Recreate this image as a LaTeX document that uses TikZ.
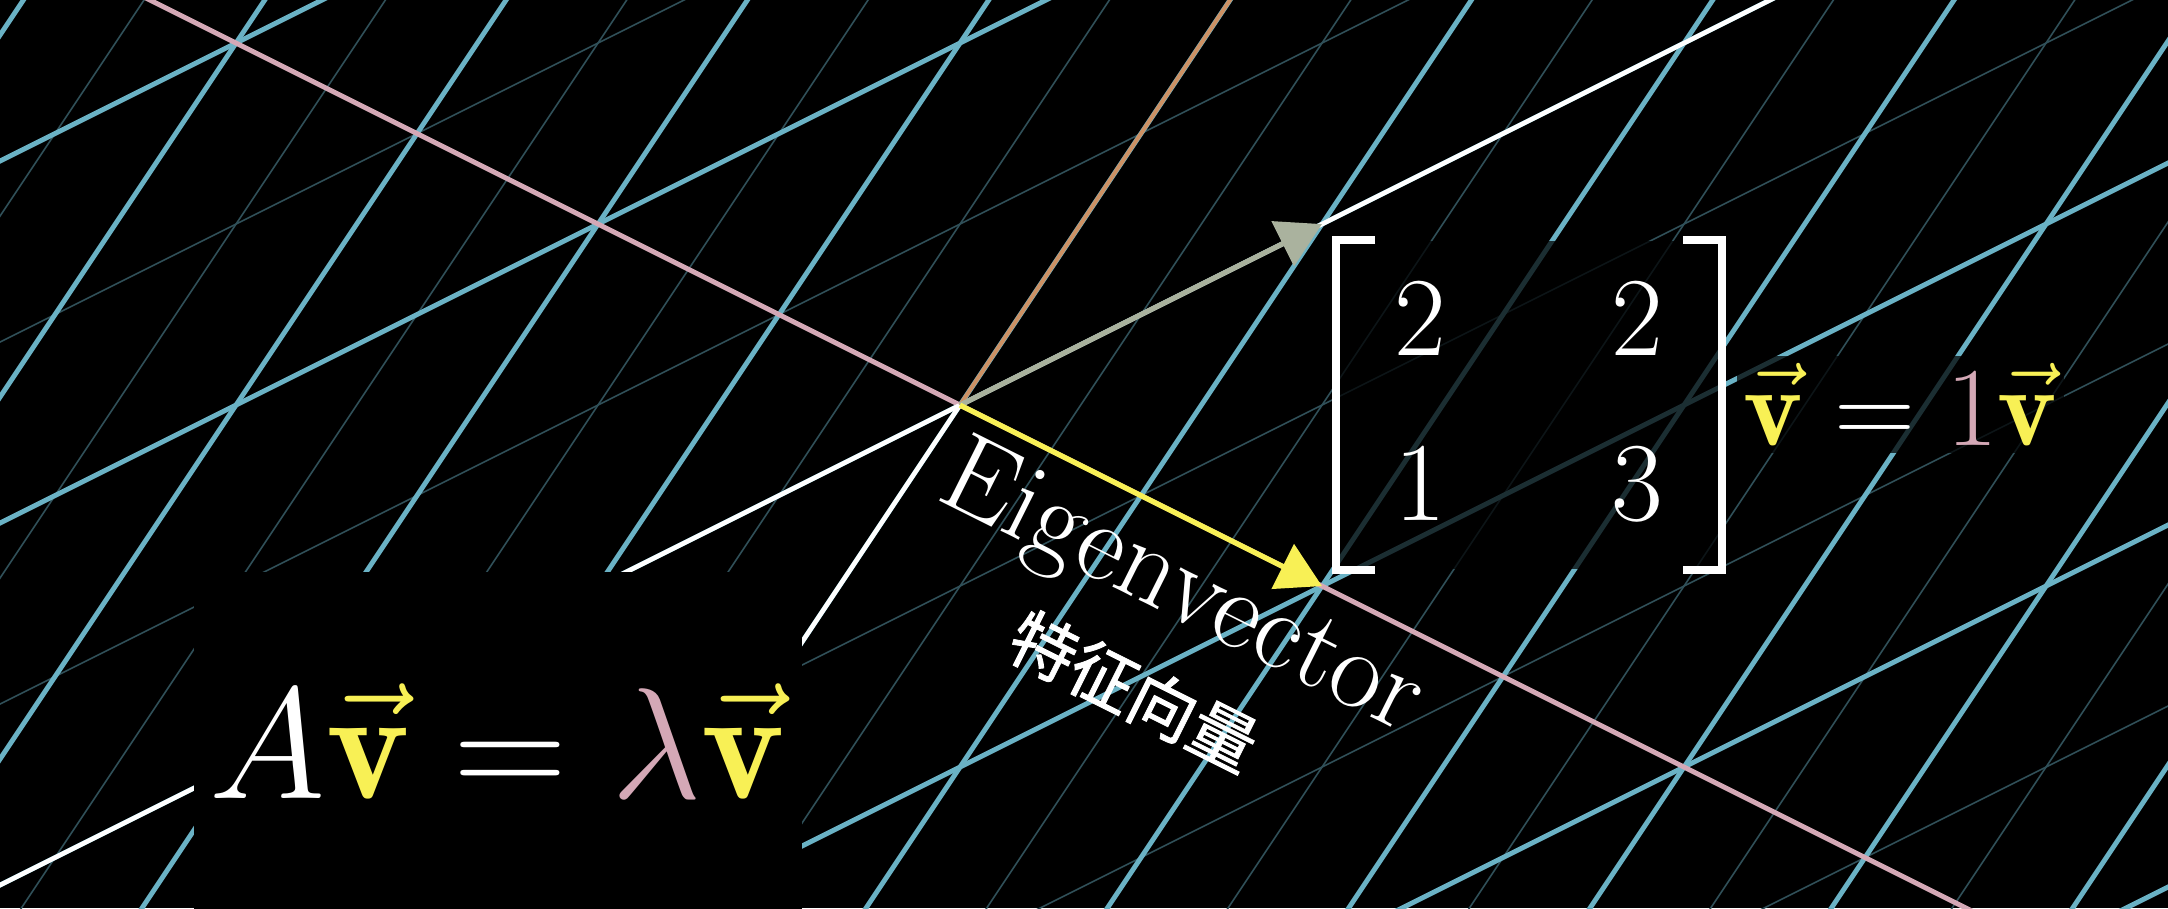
\documentclass[tikz,border=0pt]{standalone}
\usepackage{fix-cm}
\usepackage{fontspec}
\usepackage{xcolor}
\usepackage{tikz}
\usetikzlibrary{arrows.meta,positioning}
\newfontfamily\cjk[FakeBold=1.2]{Noto Sans CJK SC}
\renewcommand{\arraystretch}{1.23}
\definecolor{gridcolor}{RGB}{106,178,197}
\definecolor{spanpink}{RGB}{212,168,182}
\definecolor{eigyellow}{RGB}{248,240,85}
\definecolor{ihatgray}{RGB}{170,178,158}
\definecolor{jhatorange}{RGB}{205,145,100}
\tikzset{
  grid thick/.style={
    draw=gridcolor,
    line width=1.4pt
  },
  grid thin/.style={
    draw=gridcolor!45!black,
    line width=0.45pt
  },
  axis line/.style={
    draw=white,
    line width=1.3pt
  },
  span line/.style={
    draw=spanpink,
    line width=1.4pt
  },
  vec arrow/.style={
    -{Triangle[length=12.5pt,width=14pt]},
    line width=1.5pt
  },
  label text/.style={
    text=white,
    inner sep=1pt
  },
  dim box/.style={
    fill=black,
    fill opacity=0.74,
    text opacity=1,
    text=white,
    inner sep=0pt
  },
  bracket/.style={
    draw=white,
    line width=2.3pt
  },
  big math/.style={
    font=\fontsize{32}{38}\selectfont
  }
}

\begin{document}
\begin{tikzpicture}[x=1.81cm, y=1.81cm]
  % Frame
  \coordinate (bl) at (-5.304,-2.779);
  \coordinate (tr) at (6.674,2.238);
  \fill[black] (bl) rectangle (tr);
  \clip (bl) rectangle (tr);

  % Transformed grid, A = [2 2; 1 3]
  \begin{scope}[cm={2,1,2,3,(0,0)}]
    \foreach \k in {-5.5,-4.5,...,6.5}
      \draw[grid thin] (\k,-4) -- (\k,3.5);
    \foreach \k in {-3.5,-2.5,...,2.5}
      \draw[grid thin] (-6.5,\k) -- (7.5,\k);
    \foreach \k in {-6,...,7}
      \draw[grid thick] (\k,-4) -- (\k,3.5);
    \foreach \k in {-4,...,3}
      \draw[grid thick] (-6.5,\k) -- (7.5,\k);
  \end{scope}

  \coordinate (O) at (0,0);
  \coordinate (ihat) at (2,1);
  \coordinate (jhat) at (2,3);
  \coordinate (eig) at (2,-1);

  % Span of the eigenvector
  \coordinate (spanA) at (-8,4);
  \coordinate (spanB) at (10,-5);
  \draw[span line] (spanA) -- (spanB);

  % Transformed axes
  \coordinate (xaxA) at (-8,-4);
  \coordinate (xaxB) at (8,4);
  \coordinate (yaxA) at (-4,-6);
  \draw[axis line] (xaxA) -- (xaxB);
  \draw[axis line] (yaxA) -- (O);

  % Labels
  \node[label text, rotate=-26.57, font=\fontsize{32}{38}\selectfont] (eiglabel) at (1.22,-1.03) {Eigenvector};
  \node[label text, rotate=-26.57, font=\cjk\fontsize{19}{23}\selectfont] (cnlabel) at (0.96,-1.58) {特征向量};

  % Basis vectors and eigenvector
  \draw[vec arrow, jhatorange, line width=1.15pt] (O) -- (jhat);
  \draw[vec arrow, ihatgray] (O) -- (ihat);
  \draw[vec arrow, eigyellow] (O) -- (eig);

  % Equations
  \node[fill=black, text=white, minimum width=6.08cm, minimum height=3.4cm, font=\fontsize{45}{54}\selectfont] (defeq) at (-2.555,-1.86)
    {$A{\color{eigyellow}\vec{\mathbf{v}}} = {\color{spanpink}\lambda}{\color{eigyellow}\vec{\mathbf{v}}}$};
  \node[dim box, big math, minimum width=3.84cm] (mat) at (3.144,0)
    {$\begin{array}{@{}c@{\hspace{47pt}}c@{}}2&2\\1&3\end{array}$};
  \draw[bracket] ([xshift=11pt]mat.north west) -- (mat.north west) -- (mat.south west) -- ([xshift=11pt]mat.south west);
  \draw[bracket] ([xshift=-11pt]mat.north east) -- (mat.north east) -- (mat.south east) -- ([xshift=-11pt]mat.south east);
  \node[dim box, big math, inner sep=2pt, anchor=base west] (mateq) at ([xshift=4pt,yshift=-0.4cm]mat.east)
    {${\color{eigyellow}\vec{\mathbf{v}}} = {\color{spanpink}1}{\color{eigyellow}\vec{\mathbf{v}}}$};
\end{tikzpicture}
\end{document}
